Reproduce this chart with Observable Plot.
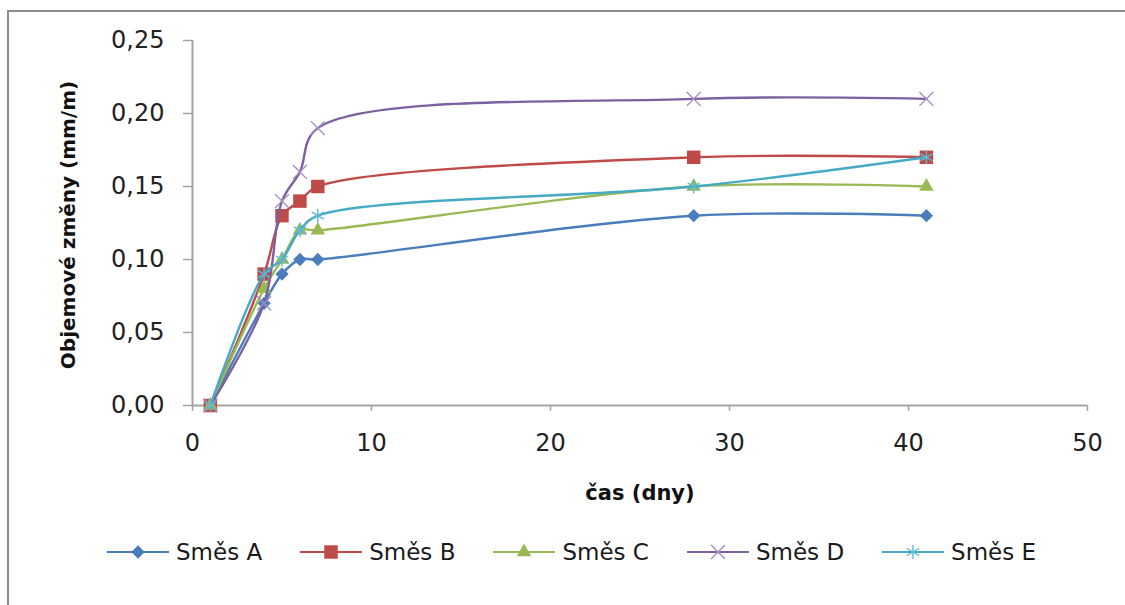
<!DOCTYPE html>
<html lang="cs">
<head>
<meta charset="utf-8">
<script src="https://cdn.jsdelivr.net/npm/d3@7"></script>
<script src="https://cdn.jsdelivr.net/npm/@observablehq/plot@0.6"></script>
<style>
  html, body { margin: 0; padding: 0; background: #fff; overflow: hidden; }
  #page { position: relative; width: 1125px; height: 605px; overflow: hidden; background: #fff; }
  #border { position: absolute; left: 7px; top: 10px; width: 1200px; height: 700px; border: 2px solid #8c8c8c; box-sizing: border-box; }
  #chart { position: absolute; left: 0; top: 0; }
  #legend { position: absolute; left: 107px; top: 539px; display: flex; align-items: center; gap: 38px;
            font-family: "DejaVu Sans", sans-serif; font-size: 23px; color: #1a1a1a; white-space: nowrap; }
  .item { display: flex; align-items: center; }
  .item svg { display: block; margin-right: 7px; }
</style>
</head>
<body>
<div id="page">
  <div id="border"></div>
  <div id="chart"></div>
  <div id="legend"></div>
</div>
<script>
// Measurement days and volume changes (mm/m) for each mixture
const days = [1, 4, 5, 6, 7, 28, 41];
const seriesNames = ["Směs A", "Směs B", "Směs C", "Směs D", "Směs E"];
const smesA = [0.00, 0.07, 0.09, 0.10, 0.10, 0.13, 0.13];
const smesB = [0.00, 0.09, 0.13, 0.14, 0.15, 0.17, 0.17];
const smesC = [0.00, 0.08, 0.10, 0.12, 0.12, 0.15, 0.15];
const smesD = [0.00, 0.07, 0.14, 0.16, 0.19, 0.21, 0.21];
const smesE = [0.00, 0.09, 0.10, 0.12, 0.13, 0.15, 0.17];
const xTicks = [0, 10, 20, 30, 40, 50];
const yTicks = [0, 0.05, 0.10, 0.15, 0.20, 0.25];
const xLabel = "čas (dny)";
const yLabel = "Objemové změny (mm/m)";

const seriesValues = [smesA, smesB, smesC, smesD, smesE];

// Long-format table for Plot
const rows = seriesNames.flatMap((name, i) =>
  days.map((day, j) => ({series: name, day, value: seriesValues[i][j]}))
);

// Marker styling per series
const markerStyle = {
  "Směs A": {color: "#4a7dbb", symbol: "square", r: 5.3, rotate: 45, filled: true},
  "Směs B": {color: "#be4b48", symbol: "square", r: 7.6, rotate: 0, filled: true},
  "Směs C": {color: "#98b954", symbol: "triangle", r: 5.4, rotate: 0, filled: true},
  "Směs D": {color: "#7d60a0", symbol: "times", r: 6.4, rotate: 0, filled: false, markStroke: "#a48fc0"},
  "Směs E": {color: "#46aac5", symbol: "asterisk", r: 6.6, rotate: 0, filled: false, markStroke: "#5bbad4"}
};

const fmt = d => d.toFixed(2).replace(".", ",");
const axisGray = "#a3a3a3";

const marks = [
  Plot.ruleY([0], {stroke: axisGray, strokeWidth: 2}),
  Plot.ruleX([0], {stroke: axisGray, strokeWidth: 2}),
  Plot.axisX({ticks: xTicks, tickSize: 6, tickPadding: 22, stroke: axisGray, strokeWidth: 1.5,
              fill: "#222", label: null, tickFormat: d => String(d)}),
  Plot.axisY({ticks: yTicks, tickSize: 9, tickPadding: 19, stroke: axisGray, strokeWidth: 1.5,
              fill: "#222", label: null, tickFormat: fmt}),
  Plot.text([xLabel], {frameAnchor: "bottom", dy: 94, fontWeight: "bold", fontSize: 21, fill: "#111"}),
  Plot.text([yLabel], {frameAnchor: "left", textAnchor: "middle", dx: -124, dy: 2, rotate: -90,
                       fontWeight: "bold", fontSize: 20, fill: "#111"})
];

for (const name of seriesNames) {
  const s = markerStyle[name];
  const data = rows.filter(d => d.series === name);
  marks.push(Plot.line(data, {x: "day", y: "value", stroke: s.color, strokeWidth: 2.4, curve: "catmull-rom"}));
  marks.push(Plot.dot(data, {
    x: "day", y: "value", symbol: () => s.symbol, r: s.r, rotate: s.rotate,
    fill: s.filled ? s.color : "none",
    stroke: s.filled ? "none" : s.markStroke,
    strokeWidth: s.filled ? 0 : 1.4
  }));
}

const chart = Plot.plot({
  width: 1125,
  height: 530,
  marginLeft: 192,
  marginRight: 38,
  marginTop: 40,
  marginBottom: 125,
  style: {fontFamily: "DejaVu Sans, sans-serif", fontSize: "24px", background: "transparent", color: "#222"},
  x: {domain: [0, 50]},
  y: {domain: [0, 0.25]},
  symbol: {type: "identity"},
  marks
});
document.getElementById("chart").appendChild(chart);

// Legend: a short line with the series marker, then the name
const legend = d3.select("#legend");
for (const name of seriesNames) {
  const s = markerStyle[name];
  const item = legend.append("div").attr("class", "item");
  const svg = item.append("svg").attr("width", 62).attr("height", 22);
  svg.append("line").attr("x1", 0).attr("x2", 62).attr("y1", 11).attr("y2", 11)
    .attr("stroke", s.color).attr("stroke-width", 2.2);
  const symbolType = {square: d3.symbolSquare, triangle: d3.symbolTriangle, times: d3.symbolTimes, asterisk: d3.symbolAsterisk}[s.symbol];
  svg.append("path")
    .attr("d", d3.symbol(symbolType, Math.PI * s.r * s.r)())
    .attr("transform", `translate(31,11) rotate(${s.rotate})`)
    .attr("fill", s.filled ? s.color : "none")
    .attr("stroke", s.filled ? "none" : s.markStroke)
    .attr("stroke-width", s.filled ? 0 : 1.4);
  item.append("span").text(name);
}
</script>
</body>
</html>
